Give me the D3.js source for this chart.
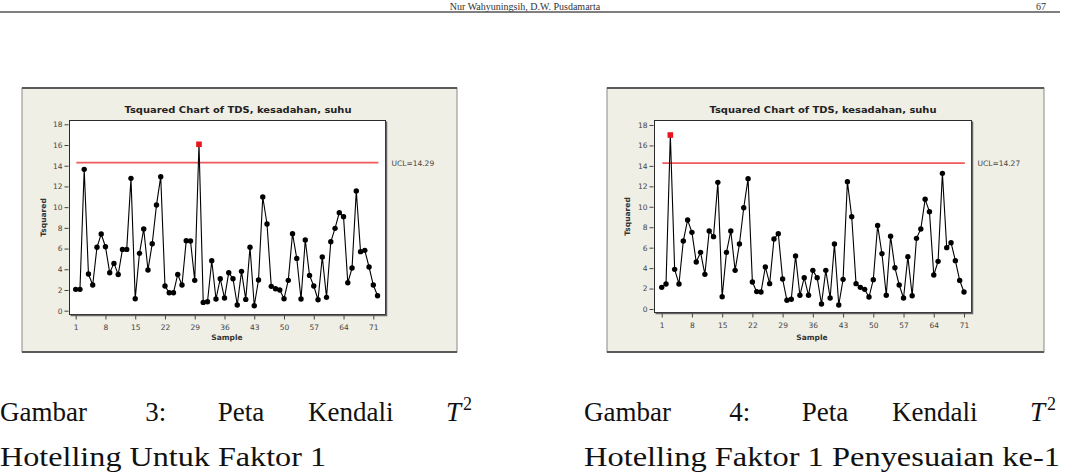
<!DOCTYPE html>
<html>
<head>
<meta charset="utf-8">
<script src="https://cdn.jsdelivr.net/npm/d3@7/dist/d3.min.js"></script>
<style>
  html, body { margin: 0; padding: 0; background: #ffffff; }
  svg { display: block; }
</style>
</head>
<body>
<svg id="page" width="1067" height="474"></svg>
<script>
// ---------------- DATA ----------------
const chartTitle = "Tsquared Chart of TDS, kesadahan, suhu";
const xAxisLabel = "Sample";
const yAxisLabel = "Tsquared";
const yTickValues = [0, 2, 4, 6, 8, 10, 12, 14, 16, 18];
const xTickValues = [1, 8, 15, 22, 29, 36, 43, 50, 57, 64, 71];

// Figure 3 : T² values, samples 1..72
const tsqFig3 = [
  2.06, 2.06, 13.65, 3.54, 2.48, 6.12, 7.40, 6.18, 3.67, 4.57,
  3.50, 5.92, 5.92, 12.78, 1.16, 5.54, 7.89, 3.93, 6.47, 10.20,
  12.94, 2.38, 1.74, 1.74, 3.50, 2.48, 6.76, 6.73, 2.93, 16.07,
  0.80, 0.87, 4.83, 1.13, 3.09, 1.22, 3.67, 3.09, 0.55, 3.80,
  1.09, 6.12, 0.48, 2.96, 10.98, 8.37, 2.35, 2.12, 2.00, 1.16,
  2.93, 7.44, 5.05, 1.13, 6.83, 3.41, 2.38, 1.06, 5.18, 1.29,
  6.66, 7.95, 9.47, 9.08, 2.70, 4.12, 11.56, 5.70, 5.83, 4.22,
  2.48, 1.45
];
const uclFig3 = 14.29;

// Figure 4 : T² values after first adjustment, samples 1..71
const tsqFig4 = [
  2.12, 2.45, 17.02, 3.88, 2.45, 6.65, 8.71, 7.50, 4.60, 5.54,
  3.39, 7.63, 7.08, 12.39, 1.20, 5.54, 7.63, 3.78, 6.36, 9.91,
  12.75, 2.64, 1.70, 1.66, 4.11, 2.48, 6.85, 7.37, 2.93, 0.85,
  0.95, 5.18, 1.34, 3.06, 1.34, 3.78, 3.06, 0.49, 3.78, 1.08,
  6.36, 0.39, 2.90, 12.46, 9.03, 2.48, 2.12, 1.92, 1.17, 2.87,
  8.18, 5.41, 1.34, 7.11, 4.04, 2.35, 1.08, 5.12, 1.30, 6.91,
  7.83, 10.73, 9.52, 3.33, 4.66, 13.27, 6.00, 6.49, 4.73, 2.80,
  1.66
];
const uclFig4 = 14.27;

const captionFig3 = [["Gambar", "3:", "Peta", "Kendali"], "Hotelling Untuk Faktor 1"];
const captionFig4 = [["Gambar", "4:", "Peta", "Kendali"], "Hotelling Faktor 1 Penyesuaian ke-1"];
const headerText = "Nur Wahyuningsih, D.W. Pusdamarta";
const pageNumber = "67";

// ---------------- DRAW ----------------
const svg = d3.select("#page");

// running header
svg.append("text").attr("x", 525).attr("y", 9.5).attr("text-anchor", "middle")
  .attr("font-family", "Liberation Serif, serif").attr("font-size", 10)
  .attr("fill", "#333").text(headerText);
svg.append("text").attr("x", 1046).attr("y", 9.5).attr("text-anchor", "end")
  .attr("font-family", "Liberation Serif, serif").attr("font-size", 10)
  .attr("fill", "#333").text(pageNumber);
svg.append("line").attr("x1", 0).attr("x2", 1060).attr("y1", 12).attr("y2", 12)
  .attr("stroke", "#555").attr("stroke-width", 1.6);

function drawChart(cfg) {
  const g = svg.append("g");
  // panel
  g.append("rect").attr("x", cfg.panel[0]).attr("y", 88)
    .attr("width", cfg.panel[1] - cfg.panel[0]).attr("height", 264)
    .attr("fill", "#f0efe5").attr("stroke", "#8a8a86").attr("stroke-width", 1);
  g.append("line").attr("x1", cfg.panel[0]).attr("x2", cfg.panel[1]).attr("y1", 88).attr("y2", 88)
    .attr("stroke", "#5a5a58").attr("stroke-width", 2);
  g.append("line").attr("x1", cfg.panel[0]).attr("x2", cfg.panel[1]).attr("y1", 352).attr("y2", 352)
    .attr("stroke", "#5a5a58").attr("stroke-width", 2);

  const x = d3.scaleLinear().domain([1, 71]).range(cfg.xRange);
  const y = d3.scaleLinear().domain([0, 18]).range(cfg.yRange);

  // plot box
  const [bx0, bx1, by0, by1] = cfg.box;
  g.append("rect").attr("x", bx0).attr("y", by0).attr("width", bx1 - bx0).attr("height", by1 - by0)
    .attr("fill", "#ffffff").attr("stroke", "#2a2a2a").attr("stroke-width", 1);
  g.append("path").attr("d", `M${bx1 + 1},${by0 + 1} V${by1 + 1} H${bx0 + 1}`)
    .attr("fill", "none").attr("stroke", "#666").attr("stroke-width", 1.5);

  // title
  g.append("text").attr("x", cfg.titleX).attr("y", 113).attr("text-anchor", "middle")
    .attr("font-family", "DejaVu Sans, sans-serif").attr("font-size", 9).attr("font-weight", "bold")
    .attr("fill", "#222").attr("textLength", 227).attr("lengthAdjust", "spacingAndGlyphs")
    .text(chartTitle);

  // y axis
  const yAxis = g.append("g").attr("transform", `translate(${bx0 - 1},0)`)
    .call(d3.axisLeft(y).tickValues(yTickValues).tickSize(4).tickPadding(2).tickSizeOuter(0));
  yAxis.select(".domain").remove();
  yAxis.selectAll("line").attr("stroke", "#444");
  yAxis.selectAll("text").attr("font-family", "DejaVu Sans, sans-serif").attr("font-size", 7.5).attr("fill", "#444");

  // x axis
  const xAxis = g.append("g").attr("transform", `translate(0,${by1 + 1})`)
    .call(d3.axisBottom(x).tickValues(xTickValues).tickSize(4).tickPadding(5).tickSizeOuter(0));
  xAxis.select(".domain").remove();
  xAxis.selectAll("line").attr("stroke", "#444");
  xAxis.selectAll("text").attr("font-family", "DejaVu Sans, sans-serif").attr("font-size", 7.5).attr("fill", "#444");

  // axis labels
  g.append("text").attr("x", cfg.xLabelX).attr("y", 340).attr("text-anchor", "middle")
    .attr("font-family", "DejaVu Sans, sans-serif").attr("font-size", 7.5).attr("font-weight", "bold")
    .attr("fill", "#333").text(xAxisLabel);
  g.append("text").attr("transform", `translate(${cfg.yLabelX},${(by0 + by1) / 2}) rotate(-90)`)
    .attr("text-anchor", "middle")
    .attr("font-family", "DejaVu Sans, sans-serif").attr("font-size", 7.5).attr("font-weight", "bold")
    .attr("fill", "#333").text(yAxisLabel);

  // UCL line + label
  g.append("line").attr("x1", x(1.15)).attr("x2", x(cfg.data.length + 0.2))
    .attr("y1", y(cfg.ucl)).attr("y2", y(cfg.ucl))
    .attr("stroke", "#f05a5a").attr("stroke-width", 1.8);
  g.append("text").attr("x", bx1 + 6).attr("y", y(cfg.ucl) + 3)
    .attr("font-family", "DejaVu Sans, sans-serif").attr("font-size", 7.5).attr("fill", "#444")
    .text("UCL=" + cfg.ucl.toFixed(2));

  // series
  const pts = cfg.data.map((v, i) => ({ s: i + 1, v }));
  g.append("path").datum(pts)
    .attr("d", d3.line().x(d => x(d.s)).y(d => y(d.v)))
    .attr("fill", "none").attr("stroke", "#000").attr("stroke-width", 1.1);
  g.selectAll(".pt").data(pts.filter(d => d.v <= cfg.ucl)).enter().append("circle")
    .attr("cx", d => x(d.s)).attr("cy", d => y(d.v)).attr("r", 2.7).attr("fill", "#000");
  g.selectAll(".out").data(pts.filter(d => d.v > cfg.ucl)).enter().append("rect")
    .attr("x", d => x(d.s) - 2.8).attr("y", d => y(d.v) - 2.8).attr("width", 5.6).attr("height", 5.6)
    .attr("fill", "#e8141e");
}

drawChart({ data: tsqFig3, ucl: uclFig3, panel: [22, 457], box: [69.5, 385.5, 120.5, 314.5],
  xRange: [75.7, 373.3], yRange: [310.7, 124.3], titleX: 238, xLabelX: 227, yLabelX: 46 });
drawChart({ data: tsqFig4, ucl: uclFig4, panel: [607, 1044], box: [654.5, 971.5, 120.5, 312.5],
  xRange: [661.7, 964], yRange: [309, 125], titleX: 823, xLabelX: 812, yLabelX: 630 });

// captions
function caption(x0, words, endWord, line2, line2Width) {
  const f = "Liberation Serif, DejaVu Serif, serif";
  const span = 440;
  const pos = [0, 0.33, 0.495, 0.7];
  words.forEach((w, i) => {
    svg.append("text").attr("x", x0 + pos[i] * span).attr("y", 421)
      .attr("font-family", f).attr("font-size", 27).attr("fill", "#111").text(w);
  });
  const t = svg.append("text").attr("x", x0 + 446).attr("y", 421)
    .attr("font-family", f).attr("font-size", 27).attr("fill", "#111");
  t.append("tspan").attr("font-style", "italic").text(endWord);
  t.append("tspan").attr("font-size", 18).attr("dy", -11).attr("dx", 2).text("2");
  svg.append("text").attr("x", x0).attr("y", 466)
    .attr("font-family", f).attr("font-size", 27).attr("fill", "#111")
    .attr("textLength", line2Width).attr("lengthAdjust", "spacingAndGlyphs").text(line2);
}
caption(0, captionFig3[0], "T", captionFig3[1], 326);
caption(584, captionFig4[0], "T", captionFig4[1], 476);
</script>
</body>
</html>
